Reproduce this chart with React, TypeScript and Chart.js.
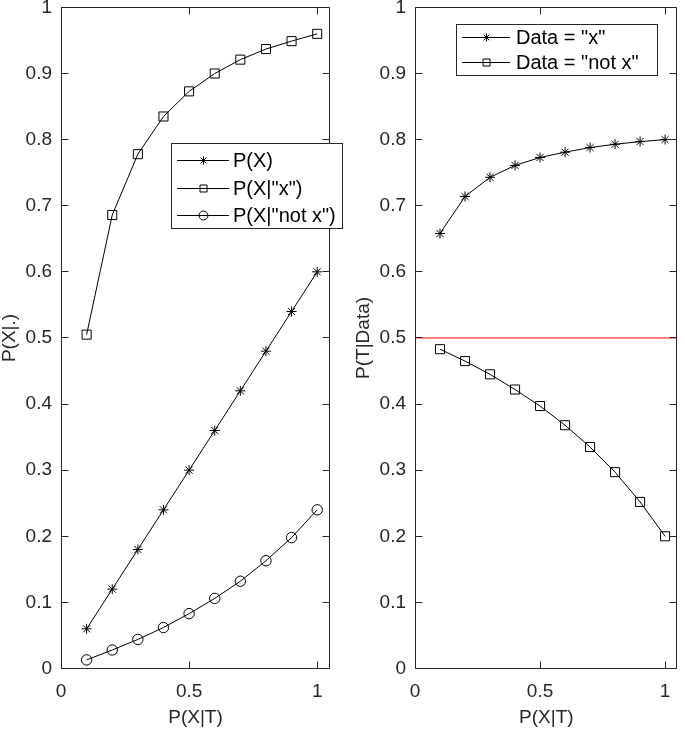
import React, { useEffect, useRef } from 'react';
import { Chart, registerables } from 'chart.js';

Chart.register(...registerables);

// ---------- data ----------
const PXT = [0.1, 0.2, 0.3, 0.4, 0.5, 0.6, 0.7, 0.8, 0.9, 1.0];
const P_X = [0.06, 0.12, 0.18, 0.24, 0.3, 0.36, 0.42, 0.48, 0.54, 0.6];
const P_X_GIVEN_X = [0.505, 0.686, 0.778, 0.835, 0.873, 0.9, 0.921, 0.937, 0.949, 0.96];
const P_X_GIVEN_NOTX = [0.013, 0.028, 0.044, 0.062, 0.083, 0.106, 0.132, 0.163, 0.198, 0.24];
const P_T_GIVEN_X = [0.658, 0.714, 0.743, 0.761, 0.773, 0.781, 0.788, 0.793, 0.797, 0.8];
const P_T_GIVEN_NOTX = [0.483, 0.465, 0.445, 0.422, 0.397, 0.368, 0.335, 0.297, 0.252, 0.2];
const THRESHOLD = 0.5;
const X_MIN = 0;
const X_MAX = 1.05;
const Y_MIN = 0;
const Y_MAX = 1;
const X_TICKS = [0, 0.5, 1];
const Y_TICKS = [0, 0.1, 0.2, 0.3, 0.4, 0.5, 0.6, 0.7, 0.8, 0.9, 1];
const LEFT_LABELS = ['P(X)', 'P(X|"x")', 'P(X|"not x")'];
const RIGHT_LABELS = ['Data = "x"', 'Data = "not x"'];
const LEFT_X_TITLE = 'P(X|T)';
const LEFT_Y_TITLE = 'P(X|.)';
const RIGHT_X_TITLE = 'P(X|T)';
const RIGHT_Y_TITLE = 'P(T|Data)';

// ---------- styles ----------
const FONT_FAMILY = "'Liberation Sans', Arial, Helvetica, sans-serif";
const AXIS_COLOR = '#262626';
const TICK_FONT = 19;
const LEGEND_FONT = 20;
const TICK_LEN = 7;

function pts(xs: number[], ys: number[]) {
  return xs.map((x, i) => ({ x, y: ys[i] }));
}

function drawMarker(ctx: CanvasRenderingContext2D, style: string, x: number, y: number, r: number) {
  ctx.beginPath();
  if (style === 'star') {
    for (let k = 0; k < 4; k++) {
      const a = (k * Math.PI) / 4;
      ctx.moveTo(x + Math.cos(a) * r, y + Math.sin(a) * r);
      ctx.lineTo(x - Math.cos(a) * r, y - Math.sin(a) * r);
    }
  } else if (style === 'rect') {
    ctx.rect(x - r, y - r, 2 * r, 2 * r);
  } else {
    ctx.arc(x, y, r, 0, Math.PI * 2);
  }
  ctx.stroke();
}

type LegendSpec = {
  x: number;
  y: number;
  w: number;
  h: number;
  rows: number[];
  lineStart: number;
  lineEnd: number;
  textX: number;
  items: { label: string; marker: string; r: number }[];
};

function makeAxesPlugin(legend: LegendSpec) {
  return {
    id: 'matlabAxes',
    afterDatasetsDraw(chart: any) {
      const { ctx, chartArea } = chart;
      const xs = chart.scales.x;
      const ys = chart.scales.y;
      const L = Math.floor(chartArea.left) + 0.5;
      const R = Math.floor(chartArea.right) - 0.5;
      const T = Math.floor(chartArea.top) + 0.5;
      const B = Math.floor(chartArea.bottom) + 0.5;
      ctx.save();
      ctx.strokeStyle = AXIS_COLOR;
      ctx.lineWidth = 1;
      ctx.beginPath();
      ctx.rect(L, T, R - L, B - T);
      for (const v of X_TICKS) {
        const px = Math.round(xs.getPixelForValue(v)) + 0.5;
        ctx.moveTo(px, B);
        ctx.lineTo(px, B - TICK_LEN);
        ctx.moveTo(px, T);
        ctx.lineTo(px, T + TICK_LEN);
      }
      for (const v of Y_TICKS) {
        const py = Math.floor(ys.getPixelForValue(v)) + 0.5;
        ctx.moveTo(L, py);
        ctx.lineTo(L + TICK_LEN, py);
        ctx.moveTo(R, py);
        ctx.lineTo(R - TICK_LEN, py);
      }
      ctx.stroke();
      ctx.restore();
    },
    afterDraw(chart: any) {
      const ctx: CanvasRenderingContext2D = chart.ctx;
      ctx.save();
      ctx.fillStyle = '#ffffff';
      ctx.fillRect(legend.x, legend.y, legend.w, legend.h);
      ctx.strokeStyle = AXIS_COLOR;
      ctx.lineWidth = 1;
      ctx.strokeRect(legend.x + 0.5, legend.y + 0.5, legend.w - 1, legend.h - 1);
      ctx.font = `${LEGEND_FONT}px ${FONT_FAMILY}`;
      ctx.textBaseline = 'middle';
      ctx.textAlign = 'left';
      legend.items.forEach((it, i) => {
        const yy = Math.round(legend.y + legend.rows[i]) + 0.5;
        const x0 = legend.x + legend.lineStart;
        const x1 = legend.x + legend.lineEnd;
        ctx.strokeStyle = '#000000';
        ctx.beginPath();
        ctx.moveTo(x0, yy);
        ctx.lineTo(x1, yy);
        ctx.stroke();
        drawMarker(ctx, it.marker, Math.round((x0 + x1) / 2) + 0.5, yy, it.r);
        ctx.fillStyle = '#000000';
        ctx.fillText(it.label, legend.x + legend.textX, yy + 1);
      });
      ctx.restore();
    },
  };
}

function lineDataset(data: { x: number; y: number }[], style: string, radius: number) {
  return {
    data,
    borderColor: '#000000',
    borderWidth: 1,
    pointStyle: style,
    pointRadius: radius,
    pointBorderColor: '#000000',
    pointBorderWidth: 1,
    pointBackgroundColor: 'rgba(0,0,0,0)',
    fill: false,
    tension: 0,
  };
}

function makeConfig(
  datasets: any[],
  yAxisWidth: number,
  rightPad: number,
  xTitle: string,
  yTitle: string,
  yTitlePad: number,
  legend: LegendSpec
): any {
  const tickFont = { family: FONT_FAMILY, size: TICK_FONT };
  return {
    type: 'line',
    data: { datasets },
    plugins: [makeAxesPlugin(legend)],
    options: {
      animation: false,
      responsive: false,
      devicePixelRatio: 1,
      events: [],
      layout: { padding: { left: 0, right: rightPad, top: 6.5, bottom: 0 } },
      plugins: {
        legend: { display: false },
        tooltip: { enabled: false },
      },
      scales: {
        x: {
          type: 'linear',
          min: X_MIN,
          max: X_MAX,
          afterBuildTicks: (s: any) => {
            s.ticks = X_TICKS.map((v) => ({ value: v }));
          },
          afterFit: (s: any) => {
            s.height = 60.5;
            s.paddingLeft = 0;
            s.paddingRight = 0;
          },
          grid: { display: false, drawTicks: false },
          border: { display: false },
          ticks: {
            padding: 12,
            color: AXIS_COLOR,
            font: tickFont,
            maxRotation: 0,
            autoSkip: false,
            callback: (v: number) => String(v),
          },
          title: {
            display: true,
            text: xTitle,
            color: AXIS_COLOR,
            font: { family: FONT_FAMILY, size: TICK_FONT, lineHeight: 1 },
            padding: { top: 0, bottom: 2 },
          },
        },
        y: {
          type: 'linear',
          min: Y_MIN,
          max: Y_MAX,
          afterBuildTicks: (s: any) => {
            s.ticks = Y_TICKS.map((v) => ({ value: v }));
          },
          afterFit: (s: any) => {
            s.width = yAxisWidth;
            s.paddingTop = 0;
            s.paddingBottom = 0;
          },
          grid: { display: false, drawTicks: false },
          border: { display: false },
          ticks: {
            padding: 9,
            color: AXIS_COLOR,
            font: tickFont,
            autoSkip: false,
            callback: (v: number) => String(v),
          },
          title: {
            display: true,
            text: yTitle,
            color: AXIS_COLOR,
            font: { family: FONT_FAMILY, size: TICK_FONT, lineHeight: 1 },
            padding: { top: yTitlePad, bottom: 0 },
          },
        },
      },
    },
  };
}

export default function App() {
  const leftRef = useRef<HTMLCanvasElement>(null);
  const rightRef = useRef<HTMLCanvasElement>(null);

  useEffect(() => {
    const leftLegend: LegendSpec = {
      x: 171,
      y: 143,
      w: 172,
      h: 86,
      rows: [17, 44.5, 72],
      lineStart: 6,
      lineEnd: 58,
      textX: 62,
      items: [
        { label: LEFT_LABELS[0], marker: 'star', r: 4 },
        { label: LEFT_LABELS[1], marker: 'rect', r: 3.5 },
        { label: LEFT_LABELS[2], marker: 'circle', r: 4.5 },
      ],
    };
    const rightLegend: LegendSpec = {
      x: 113,
      y: 24,
      w: 202,
      h: 52,
      rows: [13, 38],
      lineStart: 6,
      lineEnd: 54,
      textX: 60,
      items: [
        { label: RIGHT_LABELS[0], marker: 'star', r: 4 },
        { label: RIGHT_LABELS[1], marker: 'rect', r: 3.5 },
      ],
    };

    const leftCfg = makeConfig(
      [
        lineDataset(pts(PXT, P_X), 'star', 5),
        lineDataset(pts(PXT, P_X_GIVEN_X), 'rect', 6.4),
        lineDataset(pts(PXT, P_X_GIVEN_NOTX), 'circle', 5.2),
      ],
      61,
      13,
      LEFT_X_TITLE,
      LEFT_Y_TITLE,
      0,
      leftLegend
    );
    const rightCfg = makeConfig(
      [
        {
          data: [
            { x: X_MIN, y: THRESHOLD },
            { x: X_MAX, y: THRESHOLD },
          ],
          borderColor: '#ff0000',
          borderWidth: 1,
          pointRadius: 0,
          fill: false,
        },
        lineDataset(pts(PXT, P_T_GIVEN_X), 'star', 5),
        lineDataset(pts(PXT, P_T_GIVEN_NOTX), 'rect', 6.4),
      ],
      72,
      1,
      RIGHT_X_TITLE,
      RIGHT_Y_TITLE,
      11,
      rightLegend
    );
    const c1 = new Chart(leftRef.current as HTMLCanvasElement, leftCfg);
    const c2 = new Chart(rightRef.current as HTMLCanvasElement, rightCfg);
    return () => {
      c1.destroy();
      c2.destroy();
    };
  }, []);

  return (
    <div style={{ position: 'absolute', left: 0, top: 0, width: 685, height: 729, background: '#ffffff' }}>
      <canvas
        ref={leftRef}
        width={343}
        height={729}
        style={{ position: 'absolute', left: 0, top: 0, width: 343, height: 729 }}
      />
      <canvas
        ref={rightRef}
        width={342}
        height={729}
        style={{ position: 'absolute', left: 343, top: 0, width: 342, height: 729 }}
      />
    </div>
  );
}
